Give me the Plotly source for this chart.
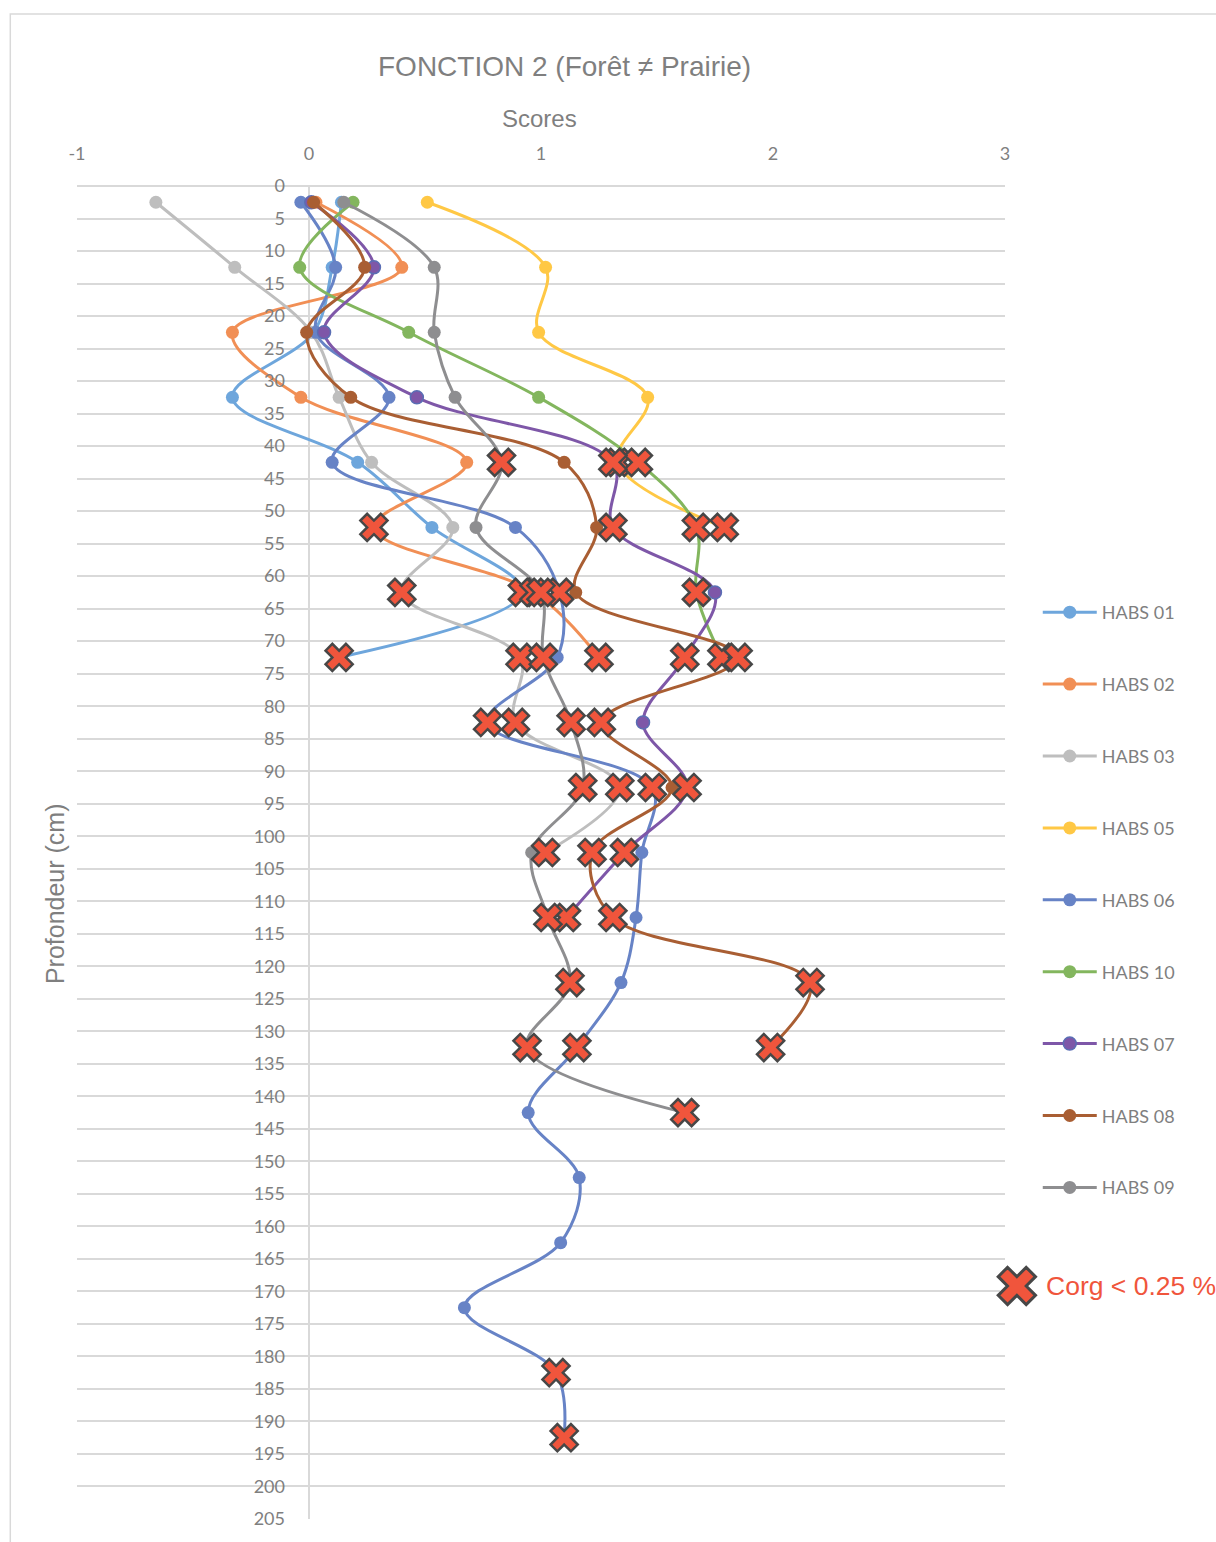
import plotly.graph_objects as go

# ---------------- data ----------------
DEPTHS = [2.5, 12.5, 22.5, 32.5, 42.5, 52.5, 62.5, 72.5, 82.5, 92.5,
          102.5, 112.5, 122.5, 132.5, 142.5, 152.5, 162.5, 172.5, 182.5, 192.5]

SERIES_NAMES = ["HABS 01", "HABS 02", "HABS 03", "HABS 05", "HABS 06",
                "HABS 10", "HABS 07", "HABS 08", "HABS 09"]

HABS_01 = [0.14, 0.10, 0.02, -0.33, 0.21, 0.53, 0.92, 0.13]
HABS_02 = [0.03, 0.40, -0.33, -0.035, 0.68, 0.28, 0.97, 1.25]
HABS_03 = [-0.66, -0.32, 0.01, 0.13, 0.27, 0.62, 0.40, 0.91, 0.89, 1.34, 1.02]
HABS_05 = [0.51, 1.02, 0.99, 1.46, 1.33, 1.79]
HABS_06 = [-0.035, 0.115, 0.03, 0.345, 0.10, 0.89, 1.08, 1.07, 0.77, 1.48,
           1.435, 1.41, 1.345, 1.155, 0.945, 1.165, 1.085, 0.67, 1.065, 1.10]
HABS_10 = [0.19, -0.04, 0.43, 0.99, 1.42, 1.67, 1.67, 1.78]
HABS_07 = [0.01, 0.28, 0.065, 0.465, 1.31, 1.31, 1.75, 1.62, 1.44, 1.63, 1.36, 1.11]
HABS_08 = [0.02, 0.24, -0.01, 0.18, 1.10, 1.24, 1.15, 1.85, 1.26, 1.565, 1.22, 1.31, 2.16, 1.99]
HABS_09 = [0.15, 0.54, 0.54, 0.63, 0.83, 0.72, 1.00, 1.01, 1.13, 1.18, 0.96, 1.03, 1.125, 0.94, 1.62]

# 1 = Corg < 0.25 % at this depth
LOW_01 = [0, 0, 0, 0, 0, 0, 1, 1]
LOW_02 = [0, 0, 0, 0, 0, 1, 1, 1]
LOW_03 = [0, 0, 0, 0, 0, 0, 1, 1, 1, 1, 1]
LOW_05 = [0, 0, 0, 0, 1, 1]
LOW_06 = [0, 0, 0, 0, 0, 0, 1, 0, 1, 1, 0, 0, 0, 1, 0, 0, 0, 0, 1, 1]
LOW_10 = [0, 0, 0, 0, 1, 1, 1, 1]
LOW_07 = [0, 0, 0, 0, 1, 1, 0, 1, 0, 1, 1, 1]
LOW_08 = [0, 0, 0, 0, 0, 0, 0, 1, 1, 0, 1, 1, 1, 1]
LOW_09 = [0, 0, 0, 0, 1, 0, 1, 1, 1, 1, 0, 1, 1, 1, 1]

X_TICKS = [-1, 0, 1, 2, 3]
Y_TICKS = list(range(0, 206, 5))

SERIES_VALUES = [HABS_01, HABS_02, HABS_03, HABS_05, HABS_06, HABS_10, HABS_07, HABS_08, HABS_09]
SERIES_LOW = [LOW_01, LOW_02, LOW_03, LOW_05, LOW_06, LOW_10, LOW_07, LOW_08, LOW_09]

# ---------------- style ----------------
COLORS = ["#6EA6DC", "#F18F55", "#BEBEBE", "#FFC845", "#6783C6",
          "#83B65E", "#7E57A8", "#A95E33", "#8E8E90"]
MARKER_LINES = [None, None, None, None, None, None, "#5A6EB4", None, None]
X_FILL = "#F0553C"
X_EDGE = "#474747"
GRID = "#D9D9D9"
TXT = "#7F7F7F"
TICK_FONT = "Lato, Calibri, sans-serif"
TITLE_FONT = "Liberation Sans Narrow, Liberation Sans, Arial, sans-serif"

W, H = 1216, 1542
ML, MR, MT, MB = 77, 0, 186, 23
PW = W - ML - MR
PH = H - MT - MB
PLOT_RIGHT = 1009


def px_x(px):
    return (px - ML) / PW


def px_y(py):
    return (H - MB - py) / PH


fig = go.Figure()

for name, vals, color, mline in zip(SERIES_NAMES, SERIES_VALUES, COLORS, MARKER_LINES):
    fig.add_trace(go.Scatter(
        x=vals, y=DEPTHS[:len(vals)], name=name, legendgroup=name,
        mode="lines+markers",
        line=dict(color=color, width=3, shape="spline", smoothing=1),
        marker=dict(symbol="circle", size=13, color=color,
                    line=dict(color=mline or color, width=1.5 if mline else 0)),
        xaxis="x", yaxis="y",
    ))

# Corg < 0.25 % series (drawn on top)
low_x, low_y = [], []
for vals, low in zip(SERIES_VALUES, SERIES_LOW):
    for v, d, f in zip(vals, DEPTHS, low):
        if f:
            low_x.append(v)
            low_y.append(d)

fig.add_trace(go.Scatter(
    x=low_x, y=low_y, mode="markers", name="Corg < 0.25 %", showlegend=False,
    marker=dict(symbol="x", size=24, color=X_FILL, line=dict(color=X_EDGE, width=2.5)),
    xaxis="x", yaxis="y",
))

# legend symbol for Corg series on its own tiny axis
fig.add_trace(go.Scatter(
    x=[0], y=[0], mode="markers", showlegend=False, hoverinfo="skip",
    marker=dict(symbol="x", size=33, color=X_FILL, line=dict(color=X_EDGE, width=3)),
    xaxis="x2", yaxis="y2", cliponaxis=False,
))

fig.update_layout(
    width=W, height=H,
    margin=dict(l=ML, r=MR, t=MT, b=MB, pad=0),
    paper_bgcolor="white", plot_bgcolor="white",
    showlegend=True,
    legend=dict(
        x=px_x(1042), y=px_y(594), xanchor="left", yanchor="top",
        font=dict(family=TICK_FONT, size=18, color=TXT),
        tracegroupgap=45.5, itemwidth=54, bgcolor="rgba(0,0,0,0)",
    ),
    xaxis=dict(
        domain=[0, px_x(PLOT_RIGHT)], range=[-1, 3], side="top",
        tickvals=X_TICKS, ticktext=[str(t) for t in X_TICKS],
        showgrid=False, zeroline=True, zerolinecolor=GRID, zerolinewidth=2,
        showline=False, ticks="", ticklabelstandoff=21,
        tickfont=dict(family=TICK_FONT, size=18, color=TXT),
        anchor="y",
    ),
    yaxis=dict(
        range=[205, 0], tickvals=Y_TICKS, ticktext=[str(t) for t in Y_TICKS],
        showgrid=True, gridcolor=GRID, gridwidth=1.5,
        zeroline=True, zerolinecolor=GRID, zerolinewidth=1.5,
        showline=False, ticks="", ticklabelstandoff=24,
        anchor="free", position=px_x(ML + (PLOT_RIGHT - ML) / 4),
        tickfont=dict(family=TICK_FONT, size=18, color=TXT),
    ),
    xaxis2=dict(domain=[px_x(1004), px_x(1038)], range=[-1, 1], visible=False,
                anchor="y2", fixedrange=True),
    yaxis2=dict(domain=[px_y(1303), px_y(1269)], range=[-1, 1], visible=False,
                anchor="x2", fixedrange=True),
    annotations=[
        dict(text="FONCTION 2 (Forêt ≠ Prairie)", x=px_x(567), y=px_y(66),
             xref="paper", yref="paper", showarrow=False, xanchor="center", yanchor="middle",
             font=dict(family=TITLE_FONT, size=28, color=TXT)),
        dict(text="Scores", x=px_x(542), y=px_y(119),
             xref="paper", yref="paper", showarrow=False, xanchor="center", yanchor="middle",
             font=dict(family=TITLE_FONT, size=24, color=TXT)),
        dict(text="Profondeur (cm)", x=px_x(55), y=px_y(894), textangle=-90,
             xref="paper", yref="paper", showarrow=False, xanchor="center", yanchor="middle",
             font=dict(family=TITLE_FONT, size=25, color=TXT)),
        dict(text="Corg < 0.25 %", x=px_x(1048), y=px_y(1286),
             xref="paper", yref="paper", showarrow=False, xanchor="left", yanchor="middle",
             font=dict(family="Liberation Sans, Arial, sans-serif", size=26.5, color=X_FILL)),
    ],
    shapes=[
        dict(type="rect", xref="paper", yref="paper",
             x0=px_x(10), x1=px_x(1400), y0=px_y(1700), y1=px_y(14),
             line=dict(color=GRID, width=1.5), fillcolor="rgba(0,0,0,0)", layer="below"),
    ],
)

fig.write_html("out.html", config={"displayModeBar": False},
               post_script="document.body.style.margin='0';")
